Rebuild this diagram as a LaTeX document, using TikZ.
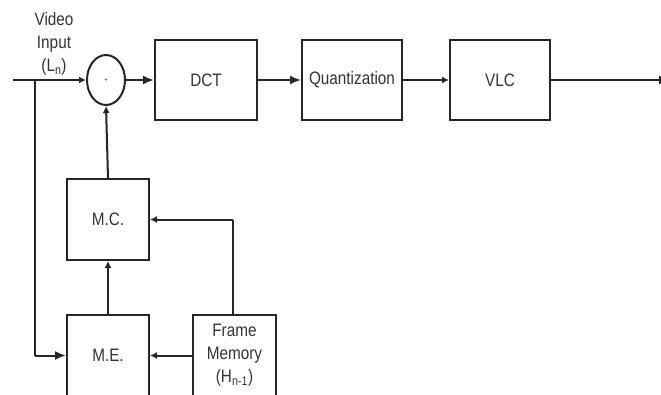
\documentclass[tikz,border=0pt]{standalone}
\usepackage{fontspec}
\setmainfont{Liberation Sans}[FakeStretch=0.85]
\usetikzlibrary{arrows.meta,shapes.geometric}
\definecolor{ln}{HTML}{262626}
\definecolor{tx}{HTML}{333333}
\tikzset{
  blk/.style={draw=ln,line width=2pt,rectangle,inner sep=0pt,font=\fontsize{18}{23}\selectfont,text=tx,align=center},
  lbl/.style={inner sep=0pt,font=\fontsize{18}{23}\selectfont,text=tx,align=center},
  wire/.style={draw=ln,line width=2pt},
  bigarr/.style={wire,-{Latex[length=11pt,width=9pt]}},
  smarr/.style={wire,-{Latex[length=7pt,width=7pt]}},
}
\begin{document}
\begin{tikzpicture}[x=1pt,y=-1pt]
\useasboundingbox (0,0) rectangle (661,394);
\clip (0,0) rectangle (661,394);
\fill[white] (0,0) rectangle (661,394);
\node[blk,minimum width=102pt,minimum height=80pt] (dct) at (206,80) {DCT};
\node[blk,minimum width=100pt,minimum height=80pt] (q) at (352,80) {Quantization};
\node[blk,minimum width=100pt,minimum height=80pt] (vlc) at (500,80) {VLC};
\node[blk,minimum width=82pt,minimum height=81pt] (mc) at (108,219.5) {M.C.};
\node[blk,minimum width=82pt,minimum height=81pt] (me) at (108,355.5) {M.E.};
\node[blk,minimum width=83pt,minimum height=81pt] (fm) at (234.5,355.5) {Frame\\Memory\\(H\textsubscript{n-1})};
\node[draw=ln,line width=2pt,ellipse,minimum width=38pt,minimum height=50pt,inner sep=0pt] (sum) at (106,80) {};
\node[inner sep=0pt,font=\fontsize{7}{7}\selectfont,text=tx] (plus) at (106,80) {+};
\node[lbl] (vin) at (54,44) {Video\\Input\\(L\textsubscript{n})};
\coordinate (in) at (13,80);
\coordinate (br) at (35,80);
\coordinate (brd) at (35,355.5);
\coordinate (out) at (670,80);
\coordinate (fmup) at (233,219.5);
\draw[smarr] (in) -- (sum.west);
\draw[wire] (br) -- (brd);
\draw[bigarr] (brd) -- (me.west);
\draw[bigarr] (sum.east) -- (dct.west);
\draw[bigarr] (dct.east) -- (q.west);
\draw[smarr] (q.east) -- (vlc.west);
\draw[bigarr] (vlc.east) -- (out);
\draw[smarr] (mc.north) -- (sum.south);
\draw[smarr] (me.north) -- (mc.south);
\draw[wire] (fm.north -| fmup) -- (fmup);
\draw[smarr] (fmup) -- (mc.east);
\draw[smarr] (fm.west) -- (me.east);
\end{tikzpicture}
\end{document}
